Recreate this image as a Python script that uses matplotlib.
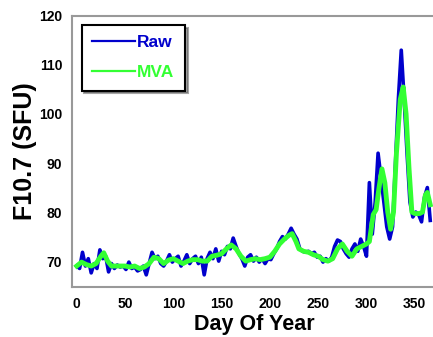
import matplotlib.pyplot as plt
import numpy as np

# daily F10.7 flux, read every 3 days
raw_days = np.arange(0, 367, 3)
raw_flux = [69.0, 68.5, 71.8, 69.0, 70.5, 67.6, 69.5, 68.5, 72.3, 70.5,
            71.0, 67.8, 69.5, 68.5, 69.2, 68.8, 69.0, 68.3, 69.8, 68.5,
            68.8, 68.0, 68.3, 69.0, 67.2, 69.5, 71.8, 70.5, 71.0, 69.5,
            69.0, 70.0, 71.3, 69.8, 70.5, 71.0, 69.0, 70.0, 71.3, 69.5,
            70.5, 71.0, 69.5, 70.8, 67.2, 70.5, 71.8, 70.5, 72.5, 70.0,
            72.0, 71.3, 73.0, 72.5, 74.7, 73.0, 71.5, 70.5, 69.0, 70.8,
            71.3, 70.0, 70.8, 69.8, 70.5, 69.5, 70.5, 70.3, 71.5, 72.5,
            74.0, 75.0, 74.5, 75.5, 76.7, 75.5, 74.5, 72.5, 72.0, 71.8,
            72.0, 71.5, 71.8, 70.8, 71.0, 69.8, 70.5, 70.0, 70.8, 73.0,
            74.3, 74.0, 72.5, 71.5, 70.8, 72.5, 73.5, 72.0, 74.5, 73.0,
            71.0, 86.0, 75.5, 82.0, 92.0, 87.0, 82.0, 77.0, 74.5, 77.0,
            90.0, 103.0, 113.0, 103.0, 92.0, 82.0, 79.0, 80.0, 79.5, 78.0,
            83.0, 85.0, 78.3]

mva_days = [0, 5, 10, 15, 20, 25, 28, 32, 36, 40, 45, 50, 55, 60, 65, 70,
            75, 80, 85, 90, 95, 100, 105, 110, 115, 120, 125, 130, 135, 140,
            145, 150, 155, 160, 165, 170, 175, 180, 185, 190, 195, 200, 205,
            210, 215, 220, 223, 227, 230, 235, 240, 245, 250, 255, 260, 265,
            270, 275, 280, 285, 290, 295, 300, 303, 307, 310, 313, 316, 319,
            322, 325, 328, 331, 335, 338, 341, 344, 347, 350, 355, 358, 361,
            363, 366]
mva_flux = [69.0, 69.8, 69.3, 69.0, 69.5, 71.0, 71.7, 70.0, 69.0, 69.0,
            69.0, 69.0, 68.8, 69.0, 68.5, 68.8, 69.5, 70.8, 70.5, 69.5,
            70.2, 70.5, 70.0, 69.5, 70.0, 70.3, 70.3, 70.0, 70.0, 71.0,
            71.2, 71.5, 72.5, 73.3, 72.5, 71.0, 70.0, 70.3, 70.5, 70.3,
            70.5, 70.8, 72.0, 73.5, 74.5, 75.3, 75.6, 74.0, 72.5, 72.0,
            71.8, 71.3, 71.0, 70.3, 70.0, 70.5, 72.5, 73.5, 72.0, 71.0,
            72.5, 73.0, 73.5, 74.0, 79.5, 80.5, 85.0, 88.8, 86.0, 80.0,
            76.5, 80.0, 92.0, 103.0, 105.5, 100.0, 89.0, 80.0, 79.7, 79.7,
            80.0, 83.5, 84.0, 81.5]

blue = "#0000cc"
green = "#33ff33"

fig = plt.figure(figsize=(4.33, 3.37), dpi=100)
ax = fig.add_axes([0.166, 0.148, 0.87, 0.805])

ax.plot(raw_days, raw_flux, color=blue, lw=2.6, label="Raw")
ax.plot(mva_days, mva_flux, color=green, lw=3.5, label="MVA")

ax.set_xlim(-5, 385)
ax.set_ylim(64.7, 119.7)
ax.set_xticks(np.arange(0, 351, 50))
ax.set_yticks(np.arange(70, 121, 10))
ax.tick_params(length=0, labelsize=10, pad=7)
for t in ax.get_xticklabels() + ax.get_yticklabels():
    t.set_fontweight("bold")
    t.set_fontfamily("Liberation Sans")
for s in ax.spines.values():
    s.set_color("#999999")
    s.set_linewidth(1.5)

ax.set_xlabel("Day Of Year", fontsize=15.5, fontweight="bold",
              fontfamily="Liberation Sans", labelpad=2)
ax.xaxis.set_label_coords(0.483, -0.1)
ax.set_ylabel("F10.7 (SFU)", fontsize=18, fontweight="bold",
              fontfamily="Liberation Sans", labelpad=1.5)

leg = ax.legend(loc="upper left", bbox_to_anchor=(0.026, 0.967), shadow=True,
                fancybox=False, handlelength=2.45, handletextpad=0.15,
                labelspacing=0.85, borderpad=0.6, borderaxespad=0,
                prop={"family": "Liberation Sans", "weight": "bold", "size": 12.5})
leg.get_frame().set_edgecolor("black")
leg.get_frame().set_linewidth(1.5)
for txt, c in zip(leg.get_texts(), [blue, green]):
    txt.set_color(c)
for ln in leg.get_lines():
    ln.set_linewidth(1.6)

fig.savefig("out.png", dpi=100)
